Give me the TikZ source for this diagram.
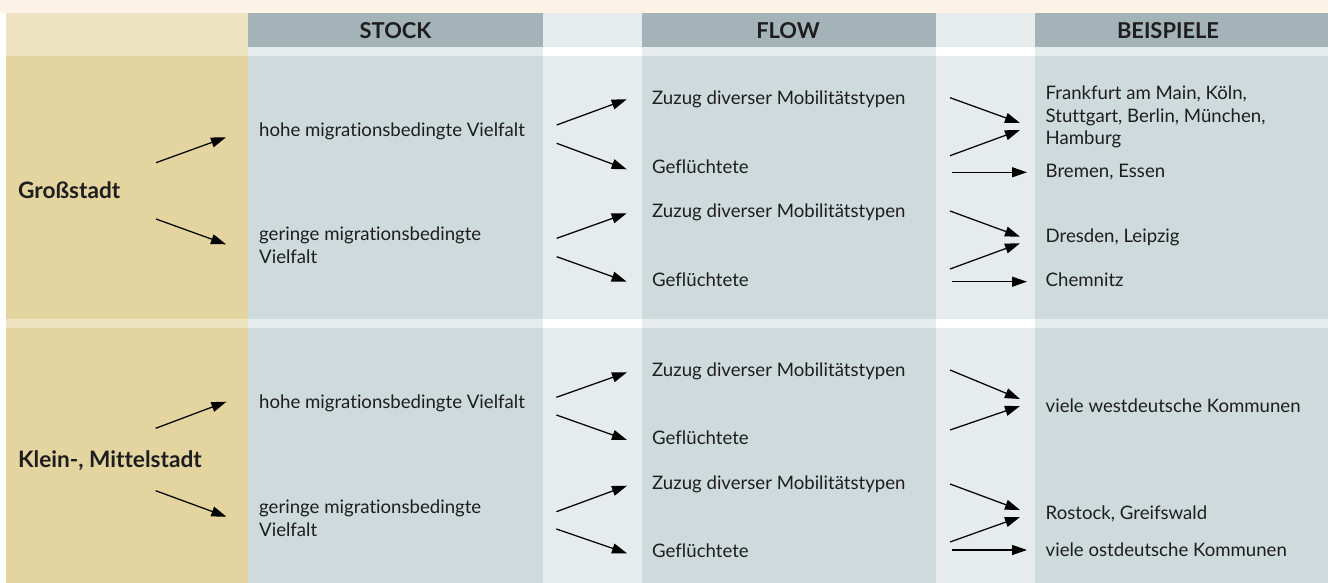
\documentclass[tikz,border=0pt]{standalone}
\usepackage{fontspec}
\setmainfont{Lato}[Ligatures=NoCommon,RawFeature={-liga;-dlig;-clig}]
\newfontfamily\lato{Lato}[Ligatures=NoCommon,RawFeature={-liga;-dlig;-clig}]
\usetikzlibrary{arrows.meta}
\definecolor{cream}{HTML}{FCF3E6}
\definecolor{lhead}{HTML}{EDE3C1}
\definecolor{lbody}{HTML}{E4D4A0}
\definecolor{chead}{HTML}{A3B3B8}
\definecolor{cbody}{HTML}{CFDADD}
\definecolor{clight}{HTML}{E6EBED}
\definecolor{txt}{HTML}{1E1E1E}
\newlength\mywa
\newlength\mywb
\newlength\mywc
\AtBeginDocument{%
\settowidth\mywa{\lato\fontsize{10pt}{12pt}\selectfont hohe migrationsbedingte Vielfalt}%
\settowidth\mywb{\lato\fontsize{10pt}{12pt}\selectfont\bfseries Klein-, Mittelstadt}%
\settowidth\mywc{\lato\fontsize{10pt}{12pt}\selectfont\bfseries BEISPIELE}%
\pgfmathsetmacro\fsreg{10*265.7/\mywa}%
\pgfmathsetmacro\fsbold{10*183.5/\mywb}%
\pgfmathsetmacro\fshead{10*102/\mywc}%
\xdef\fsreg{\fsreg}\xdef\fsbold{\fsbold}\xdef\fshead{\fshead}%
}
\newcommand\fr{\fontsize{\fsreg pt}{22.5pt}\selectfont}
\newcommand\fb{\fontsize{\fsbold pt}{22pt}\selectfont\bfseries}
\newcommand\fh{\fontsize{\fshead pt}{16pt}\selectfont\bfseries}
\newcommand\myarrow[3]{\coordinate (#1s) at (#2); \coordinate (#1e) at (#3); \draw[arr] (#1s) -- (#1e);}
\begin{document}
\begin{tikzpicture}[x=1pt,y=-1pt,
  arr/.style={line width=1.25pt, draw=black, -{Triangle[length=15pt,width=10pt]}},
  lbl/.style={anchor=west, inner sep=0pt, align=left, text=txt, font=\fr},
  blbl/.style={anchor=west, inner sep=0pt, align=left, text=txt, font=\fb},
  hlbl/.style={anchor=center, inner sep=0pt, text=txt, font=\fh}]
\useasboundingbox (0,0) rectangle (1328,583);
% background
\fill[white] (0,0) rectangle (1328,583);
\fill[cream] (0,0) rectangle (1328,13);
% header row
\fill[lhead] (6,13) rectangle (248,56);
\fill[chead] (248,13) rectangle (543,47);
\fill[clight] (248,47) rectangle (543,56);
\fill[clight] (543,13) rectangle (642,47);
\fill[white] (543,47) rectangle (642,56);
\fill[chead] (642,13) rectangle (936,47);
\fill[clight] (642,47) rectangle (936,56);
\fill[clight] (936,13) rectangle (1035,47);
\fill[white] (936,47) rectangle (1035,56);
\fill[chead] (1035,13) rectangle (1328,47);
\fill[clight] (1035,47) rectangle (1328,56);
% bodies
\foreach \ya/\yb in {56/319, 328/583}{
  \fill[lbody] (6,\ya) rectangle (248,\yb);
  \fill[cbody] (248,\ya) rectangle (543,\yb);
  \fill[clight] (543,\ya) rectangle (642,\yb);
  \fill[cbody] (642,\ya) rectangle (936,\yb);
  \fill[clight] (936,\ya) rectangle (1035,\yb);
  \fill[cbody] (1035,\ya) rectangle (1328,\yb);
}
% separator
\fill[lhead] (6,319) rectangle (248,328);
\fill[clight] (248,319) rectangle (543,328);
\fill[white] (543,319) rectangle (642,328);
\fill[clight] (642,319) rectangle (936,328);
\fill[white] (936,319) rectangle (1035,328);
\fill[clight] (1035,319) rectangle (1328,328);
% headers
\node[hlbl] (hstock) at (395.5,30.5) {STOCK};
\node[hlbl] (hflow) at (788,30.5) {FLOW};
\node[hlbl] (hbsp) at (1168,30.5) {BEISPIELE};
% block 1
\node[blbl] (lgross) at (18,190) {Großstadt};
\node[lbl] (hoch1) at (259,131.7) {hohe migrationsbedingte Vielfalt};
\node[lbl] (ger1) at (259,245) {geringe migrationsbedingte\\Vielfalt};
\node[lbl] (zu1a) at (652,99.5) {Zuzug diverser Mobilitätstypen};
\node[lbl] (gf1a) at (652,166.5) {Geflüchtete};
\node[lbl] (zu1b) at (652,212.5) {Zuzug diverser Mobilitätstypen};
\node[lbl] (gf1b) at (652,279.5) {Geflüchtete};
\node[lbl] (bsp1) at (1045.5,117) {Frankfurt am Main, Köln,\\Stuttgart, Berlin, München,\\Hamburg};
\node[lbl] (bsp2) at (1045.5,171.7) {Bremen, Essen};
\node[lbl] (bsp3) at (1045.5,237) {Dresden, Leipzig};
\node[lbl] (bsp4) at (1045.5,280) {Chemnitz};
% block 2
\node[blbl] (lklein) at (18,461) {Klein-, Mittelstadt};
\node[lbl] (hoch2) at (259,403.5) {hohe migrationsbedingte Vielfalt};
\node[lbl] (ger2) at (259,518) {geringe migrationsbedingte\\Vielfalt};
\node[lbl] (zu2a) at (652,371.5) {Zuzug diverser Mobilitätstypen};
\node[lbl] (gf2a) at (652,438) {Geflüchtete};
\node[lbl] (zu2b) at (652,484) {Zuzug diverser Mobilitätstypen};
\node[lbl] (gf2b) at (652,551) {Geflüchtete};
\node[lbl] (bsp5) at (1045.5,406) {viele westdeutsche Kommunen};
\node[lbl] (bsp6) at (1045.5,514) {Rostock, Greifswald};
\node[lbl] (bsp7) at (1045.5,550) {viele ostdeutsche Kommunen};
% arrows block 1
\myarrow{a1}{156,162.7}{226,137.3}
\myarrow{a2}{156,219}{226,244.3}
\myarrow{b1}{556.7,125}{626.7,99.3}
\myarrow{b2}{556.7,143.3}{626.7,169.3}
\myarrow{b3}{556.7,238.3}{626.7,213.3}
\myarrow{b4}{556.7,256.7}{626.7,281.7}
\myarrow{c1}{950,97.7}{1020,123}
\myarrow{c2}{950,155.7}{1020,130}
\myarrow{c3}{952,172.3}{1027,172.3}
\myarrow{c4}{950,211}{1020,236.7}
\myarrow{c5}{950,269}{1020,243.3}
\myarrow{c6}{952,281.7}{1027,281.7}
% arrows block 2
\myarrow{a3}{155.7,428.3}{226.4,401.7}
\myarrow{a4}{155.7,490.7}{226.4,516.7}
\myarrow{b5}{556.4,397.3}{627,372.3}
\myarrow{b6}{556.4,415}{627,440}
\myarrow{b7}{556.4,511.7}{627,485.7}
\myarrow{b8}{556.4,529}{627,553.3}
\myarrow{c7}{950,370}{1020,399}
\myarrow{c8}{950,430}{1020,406}
\myarrow{c9}{950,484}{1020,510}
\myarrow{c10}{950,542}{1020,517}
\myarrow{c11}{952,550}{1027,550}
\end{tikzpicture}
\end{document}
